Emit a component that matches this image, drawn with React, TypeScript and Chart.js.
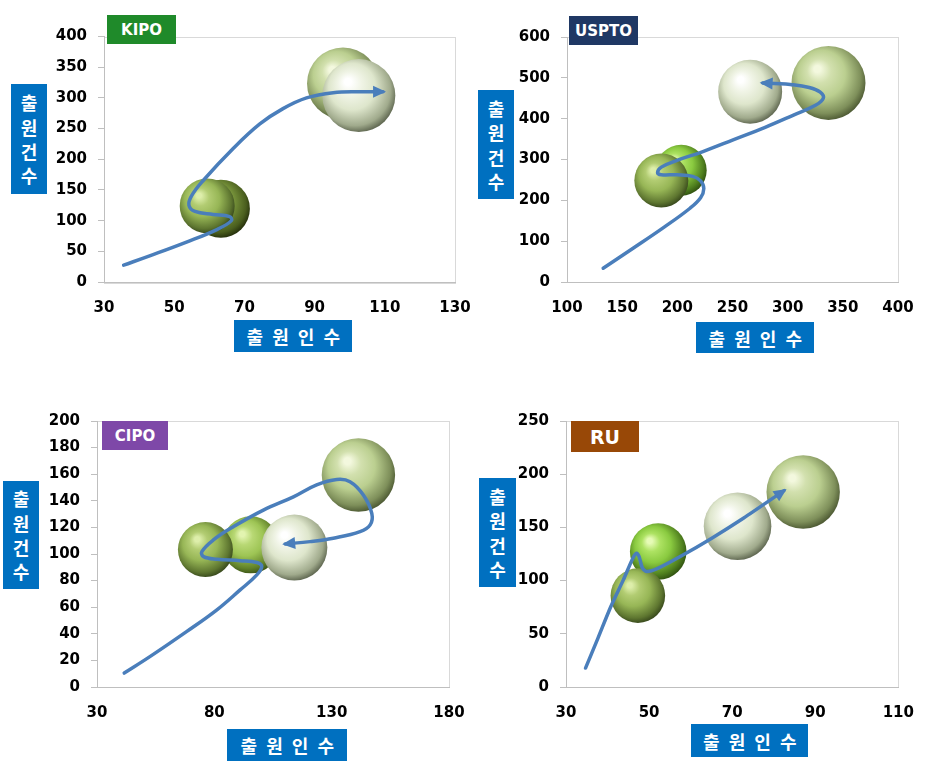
import React, { useEffect, useRef } from 'react';
import { Chart, registerables } from 'chart.js';

Chart.register(...registerables);

// ---------- KIPO ----------
const kipoApplicants = [63.3, 59.4, 98.1, 102.6];
const kipoApplications = [119.5, 124, 323.6, 303.7];
const kipoBubbleSizes = [29, 27.5, 36, 36.5];
const kipoShades = ['darkOlive', 'olive', 'light', 'pale'];
const kipoPathX = [35.6, 43.0, 53.5, 62.0, 66.3, 65.8, 61.1, 55.9, 54.2, 54.9, 58.2, 66.8, 74.4, 81.0, 87.7, 95.3, 102.9, 109.5];
const kipoPathY = [27.5, 42.6, 65, 85, 100, 106.5, 110, 115, 125, 140, 165, 217.5, 257.5, 282.5, 300, 308.5, 310, 310];
const kipoXTicks = [30, 50, 70, 90, 110, 130];
const kipoYTicks = [0, 50, 100, 150, 200, 250, 300, 350, 400];

// ---------- USPTO ----------
const usptoApplicants = [203.5, 185.5, 266, 337];
const usptoApplications = [273.8, 248.6, 466, 487.5];
const usptoBubbleSizes = [25.5, 27, 32, 37];
const usptoShades = ['lime', 'olive', 'pale', 'light'];
const usptoPathX = [132.8, 159.9, 188.4, 211.2, 221.1, 224.0, 221.1, 214.0, 199.7, 185.5, 182.1, 185.5, 199.7, 222.6, 251.1, 279.6, 305.3, 325.2, 332.3, 329.5, 319.5, 302.4, 288.2, 277.3];
const usptoPathY = [33.8, 82.6, 135, 180, 206.3, 228.8, 247.5, 258.8, 262.6, 262.6, 267.8, 281.3, 297.9, 318.9, 348.8, 378.9, 408.9, 432.9, 450, 465, 476.4, 483.8, 486, 487.6];
const usptoXTicks = [100, 150, 200, 250, 300, 350, 400];
const usptoYTicks = [0, 100, 200, 300, 400, 500, 600];

// ---------- CIPO ----------
const cipoApplicants = [95.5, 76.2, 114.1, 141.4];
const cipoApplications = [106.9, 103.3, 104.8, 159.4];
const cipoBubbleSizes = [28.5, 27.5, 33, 36.7];
const cipoShades = ['brightOlive', 'olive', 'pale', 'light'];
const cipoPathX = [41.6, 52.7, 68.3, 81.1, 91.0, 98.1, 100.2, 98.1, 91.0, 81.1, 75.4, 74.7, 79.6, 88.2, 100.9, 113.7, 123.6, 132.2, 137.8, 143.5, 147.1, 146.4, 142.1, 130.7, 120.8, 110.2];
const cipoPathY = [10.5, 23, 41.8, 58, 73, 84.3, 90.6, 93.6, 95, 96, 98, 101.8, 110.6, 120.6, 133, 143, 152, 156, 154.4, 144.4, 130.6, 121.9, 116.8, 111.9, 109.3, 107.6];
const cipoXTicks = [30, 80, 130, 180];
const cipoYTicks = [0, 20, 40, 60, 80, 100, 120, 140, 160, 180, 200];

// ---------- RU ----------
const ruApplicants = [52.2, 47.3, 71.3, 87.1];
const ruApplications = [127.3, 85.9, 151.1, 183.3];
const ruBubbleSizes = [28.3, 27.3, 33.8, 36.7];
const ruShades = ['lime', 'olive', 'pale', 'light'];
const ruPathX = [34.7, 37.7, 40.8, 43.8, 46.1, 47.0, 47.6, 48.4, 49.5, 52.2, 57.5, 65.1, 72.7, 82.5];
const ruPathY = [17.8, 46, 75.7, 100.7, 121, 125.8, 122.6, 111.7, 108.5, 111.7, 122.6, 139.9, 158.6, 184.6];
const ruXTicks = [30, 50, 70, 90, 110];
const ruYTicks = [0, 50, 100, 150, 200, 250];

// highlight, soft highlight, body, shadow, rim
const PALETTE: Record<string, string[]> = {
  darkOlive: ['#C8DC90', '#98B352', '#76923A', '#4A5E1E', '#222C0A'],
  olive: ['#DDEEAA', '#B2CC72', '#97B656', '#5E7630', '#34441A'],
  brightOlive: ['#E2F4B0', '#B8D874', '#9DC454', '#62822A', '#3A5216'],
  lime: ['#E6FBB6', '#ADE262', '#8ACA40', '#4F7F1E', '#2E4E10'],
  light: ['#F3F8DE', '#D2E0AE', '#BBCF90', '#7E8F5A', '#48542F'],
  pale: ['#FFFFFF', '#F0F4E6', '#DEE6CC', '#A0AA8C', '#58604A'],
};

const W = 935;
const H = 761;
const YAXIS_W = 70;
const XAXIS_H = 40;
const LINE_COLOR = '#4A7EBB';
const TICK_FONT = { family: 'DejaVu Sans', weight: 'bold' as const, size: 15 };

type Spec = {
  plot: { l: number; t: number; r: number; b: number };
  xs: number[]; ys: number[]; sizes: number[]; shades: string[];
  pathX: number[]; pathY: number[]; tension: number;
  xTicks: number[]; yTicks: number[];
};

const frame = {
  id: 'frame',
  beforeDraw(chart: any) {
    const a = chart.chartArea;
    const c = chart.ctx;
    c.save();
    c.strokeStyle = '#D9D9D9';
    c.lineWidth = 1;
    c.strokeRect(Math.round(a.left) + 0.5, Math.round(a.top) + 0.5, Math.round(a.right - a.left), Math.round(a.bottom - a.top));
    c.restore();
  },
};

const arrowHead = {
  id: 'arrowHead',
  afterDatasetsDraw(chart: any) {
    chart.data.datasets.forEach((ds: any, i: number) => {
      if (ds.type !== 'line') return;
      const meta = chart.getDatasetMeta(i);
      const pts = meta.data;
      const n = pts.length;
      if (n < 2) return;
      const p = pts[n - 1];
      let fx = p.cp1x, fy = p.cp1y;
      if (fx === undefined || (Math.abs(fx - p.x) < 0.5 && Math.abs(fy - p.y) < 0.5)) {
        fx = pts[n - 2].x; fy = pts[n - 2].y;
      }
      let dx = p.x - fx, dy = p.y - fy;
      const len = Math.hypot(dx, dy) || 1;
      dx /= len; dy /= len;
      const tipX = p.x + dx * 3, tipY = p.y + dy * 3;
      const bx = tipX - dx * 13, by = tipY - dy * 13;
      const hw = 6;
      const c = chart.ctx;
      c.save();
      c.fillStyle = LINE_COLOR;
      c.beginPath();
      c.moveTo(tipX, tipY);
      c.lineTo(bx - dy * hw, by + dx * hw);
      c.lineTo(bx + dy * hw, by - dx * hw);
      c.closePath();
      c.fill();
      c.restore();
    });
  },
};

function makeConfig(s: Spec): any {
  const bubbleData = s.xs.map((x, i) => ({ x, y: s.ys[i], r: s.sizes[i] }));
  const pathData = s.pathX.map((x, i) => ({ x, y: s.pathY[i] }));
  const xStep = s.xTicks[1] - s.xTicks[0];
  const yStep = s.yTicks[1] - s.yTicks[0];
  return {
    type: 'bubble',
    data: {
      datasets: [
        {
          type: 'line',
          data: pathData,
          borderColor: LINE_COLOR,
          borderWidth: 3.5,
          borderCapStyle: 'round',
          borderJoinStyle: 'round',
          pointRadius: 0,
          pointHoverRadius: 0,
          tension: s.tension,
          fill: false,
          order: 0,
          clip: false,
        },
        {
          type: 'bubble',
          data: bubbleData,
          borderWidth: 0,
          order: 1,
          backgroundColor: (ctx: any) => {
            const chart = ctx.chart;
            if (ctx.type !== 'data' || !chart.chartArea || !chart.scales.x) return '#9BBB59';
            const raw = ctx.raw;
            const cx = chart.scales.x.getPixelForValue(raw.x);
            const cy = chart.scales.y.getPixelForValue(raw.y);
            const r = raw.r;
            const p = PALETTE[s.shades[ctx.dataIndex]];
            const g = chart.ctx.createRadialGradient(cx - 0.32 * r, cy - 0.4 * r, 0, cx - 0.08 * r, cy - 0.12 * r, 1.16 * r);
            g.addColorStop(0, p[0]);
            g.addColorStop(0.08, p[0]);
            g.addColorStop(0.28, p[1]);
            g.addColorStop(0.55, p[2]);
            g.addColorStop(0.85, p[3]);
            g.addColorStop(1, p[4]);
            return g;
          },
        },
      ],
    },
    options: {
      responsive: false,
      animation: false,
      events: [],
      layout: {
        padding: {
          left: s.plot.l - YAXIS_W,
          top: s.plot.t,
          right: W - s.plot.r,
          bottom: H - s.plot.b - XAXIS_H,
        },
      },
      plugins: { legend: { display: false }, tooltip: { enabled: false } },
      scales: {
        x: {
          type: 'linear',
          min: s.xTicks[0],
          max: s.xTicks[s.xTicks.length - 1],
          afterFit: (sc: any) => { sc.height = XAXIS_H; },
          grid: { display: true, drawOnChartArea: false, drawTicks: false },
          border: { display: true, color: '#BFBFBF' },
          ticks: { stepSize: xStep, padding: 17, font: TICK_FONT, color: '#000', maxRotation: 0 },
        },
        y: {
          type: 'linear',
          min: s.yTicks[0],
          max: s.yTicks[s.yTicks.length - 1],
          afterFit: (sc: any) => { sc.width = YAXIS_W; },
          grid: { display: true, drawOnChartArea: false, drawTicks: true, tickLength: 6, color: '#BFBFBF' },
          border: { display: true, color: '#BFBFBF' },
          ticks: { stepSize: yStep, padding: 11, font: TICK_FONT, color: '#000' },
        },
      },
    },
    plugins: [frame, arrowHead],
  };
}

const SPECS: Spec[] = [
  { plot: { l: 104, t: 15, r: 455, b: 282 }, xs: kipoApplicants, ys: kipoApplications, sizes: kipoBubbleSizes, shades: kipoShades, pathX: kipoPathX, pathY: kipoPathY, tension: 0.4, xTicks: kipoXTicks, yTicks: kipoYTicks },
  { plot: { l: 567, t: 15, r: 917, b: 282 }, xs: usptoApplicants, ys: usptoApplications, sizes: usptoBubbleSizes, shades: usptoShades, pathX: usptoPathX, pathY: usptoPathY, tension: 0.4, xTicks: usptoXTicks, yTicks: usptoYTicks },
  { plot: { l: 97, t: 421, r: 449, b: 687 }, xs: cipoApplicants, ys: cipoApplications, sizes: cipoBubbleSizes, shades: cipoShades, pathX: cipoPathX, pathY: cipoPathY, tension: 0.4, xTicks: cipoXTicks, yTicks: cipoYTicks },
  { plot: { l: 566, t: 421, r: 917, b: 687 }, xs: ruApplicants, ys: ruApplications, sizes: ruBubbleSizes, shades: ruShades, pathX: ruPathX, pathY: ruPathY, tension: 0.25, xTicks: ruXTicks, yTicks: ruYTicks },
];

const TITLES = [
  { text: 'KIPO', bg: '#1F8A2A', l: 107, t: 15, w: 69, h: 29, size: 15 },
  { text: 'USPTO', bg: '#1F3864', l: 569, t: 16, w: 69, h: 29, size: 15 },
  { text: 'CIPO', bg: '#7E48A8', l: 102, t: 421, w: 66, h: 29, size: 15 },
  { text: 'RU', bg: '#984807', l: 571, t: 421, w: 68, h: 31, size: 19 },
];

const Y_LABELS = [
  { l: 11, t: 84, w: 36, h: 110 },
  { l: 478, t: 90, w: 36, h: 109 },
  { l: 3, t: 481, w: 36, h: 108 },
  { l: 479, t: 478, w: 37, h: 109 },
];

const X_LABELS = [
  { l: 234, t: 320, w: 118, h: 32 },
  { l: 696, t: 322, w: 118, h: 31 },
  { l: 227, t: 729, w: 120, h: 32 },
  { l: 691, t: 724, w: 117, h: 33 },
];

const Y_TITLE = ['출', '원', '건', '수'];
const X_TITLE = '출 원 인 수';
const KR_FONT = '"Noto Sans CJK KR", "Noto Sans CJK SC", sans-serif';

function ChartCanvas({ spec }: { spec: Spec }) {
  const ref = useRef<HTMLCanvasElement>(null);
  useEffect(() => {
    if (!ref.current) return;
    const chart = new Chart(ref.current, makeConfig(spec));
    return () => chart.destroy();
  }, [spec]);
  return (
    <canvas
      ref={ref}
      width={W}
      height={H}
      style={{ position: 'absolute', left: 0, top: 0, width: W, height: H }}
    />
  );
}

export default function App() {
  useEffect(() => {
    document.body.style.margin = '0';
  }, []);
  return (
    <div style={{ position: 'absolute', left: 0, top: 0, width: W, height: H, background: '#fff', overflow: 'hidden' }}>
      {SPECS.map((s, i) => (
        <ChartCanvas key={i} spec={s} />
      ))}
      {TITLES.map((t, i) => (
        <div
          key={'t' + i}
          style={{
            position: 'absolute', left: t.l, top: t.t, width: t.w, height: t.h,
            background: t.bg, color: '#fff', fontFamily: 'DejaVu Sans', fontWeight: 'bold',
            fontSize: t.size, display: 'flex', alignItems: 'center', justifyContent: 'center',
          }}
        >
          {t.text}
        </div>
      ))}
      {Y_LABELS.map((b, i) => (
        <div
          key={'y' + i}
          style={{
            position: 'absolute', left: b.l, top: b.t, width: b.w, height: b.h,
            background: '#0070C0', color: '#fff', fontFamily: KR_FONT, fontWeight: 'bold',
            fontSize: 18, display: 'flex', flexDirection: 'column', alignItems: 'center', justifyContent: 'center',
          }}
        >
          {Y_TITLE.map((c, j) => (
            <div key={j} style={{ lineHeight: '24.3px', height: 24.3 }}>{c}</div>
          ))}
        </div>
      ))}
      {X_LABELS.map((b, i) => (
        <div
          key={'x' + i}
          style={{
            position: 'absolute', left: b.l, top: b.t, width: b.w, height: b.h,
            background: '#0070C0', color: '#fff', fontFamily: KR_FONT, fontWeight: 'bold',
            fontSize: 18, letterSpacing: 2.5, display: 'flex', alignItems: 'center', justifyContent: 'center',
            whiteSpace: 'pre', paddingLeft: 3, boxSizing: 'border-box',
          }}
        >
          {X_TITLE}
        </div>
      ))}
    </div>
  );
}
